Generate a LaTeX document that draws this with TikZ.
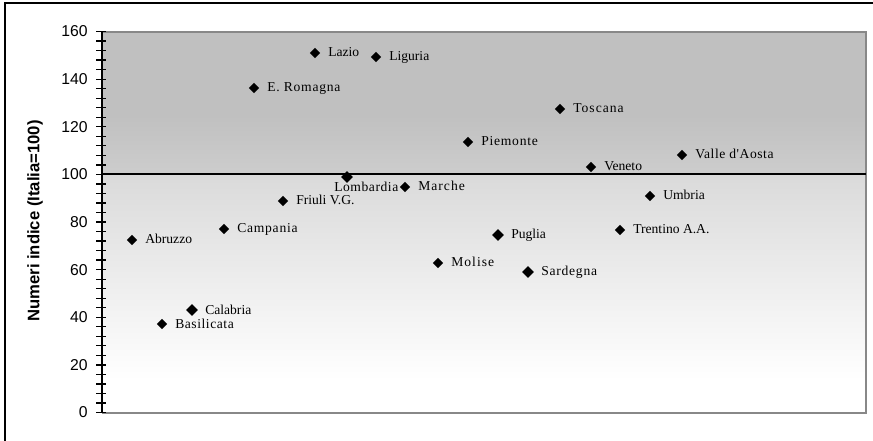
\documentclass[tikz,border=0pt]{standalone}
\usepackage{fontspec}
\setmainfont{Liberation Serif}
\newfontfamily\arial{Liberation Sans}
\newfontfamily\lsN{Liberation Serif}
\newfontfamily\lsS[LetterSpace=4]{Liberation Serif}
\newfontfamily\lsM[LetterSpace=5.5]{Liberation Serif}
\newfontfamily\lsL[LetterSpace=7.5]{Liberation Serif}
\usetikzlibrary{shapes.geometric}
\definecolor{topgray}{HTML}{C0C0C0}
\definecolor{midgray}{HTML}{CDCDCD}
\definecolor{lowgray}{HTML}{DADADA}
\definecolor{bordergray}{HTML}{888888}
\tikzset{
  pt/.style={diamond, fill=black, inner sep=0pt, minimum width=10.5*0.75pt, minimum height=10.5*0.75pt},
  bigpt/.style={pt, minimum width=12*0.75pt, minimum height=12*0.75pt},
  lab/.style={anchor=base west, inner sep=0pt, font=\fontsize{10.2}{12}\selectfont},
  ticklab/.style={anchor=east, inner sep=0pt, font=\arial\fontsize{11.8}{13}\selectfont},
  axtitle/.style={rotate=90, inner sep=0pt, font=\arial\bfseries\fontsize{12.5}{14}\selectfont}
}
\begin{document}
\begin{tikzpicture}[x=0.75pt,y=-0.75pt]
\useasboundingbox (0,0) rectangle (873,441);
\fill[white] (0,0) rectangle (873,441);
% plot area background
\fill[topgray] (102,32) rectangle (866,115);
\shade[top color=topgray, bottom color=midgray] (102,115) rectangle (866,174.4);
\shade[top color=lowgray, bottom color=white] (102,174.4) rectangle (866,380);
\fill[white] (102,380) rectangle (866,413);
% plot border
\draw[bordergray, line width=1.8*0.75pt] (102,32) -- (866,32) -- (866,413) -- (102,413);
% outer frame
\draw[line width=2*0.75pt] (5,441) -- (5,3) -- (873,3);
% reference line 100
\draw[line width=1.8*0.75pt] (102,174.4) -- (866,174.4);
% y axis
\draw[line width=1.6*0.75pt] (102,32) -- (102,413);
\foreach \v in {0,4,...,160}
  \draw[line width=1.3*0.75pt] (96,{412.5-2.381*\v}) -- (106,{412.5-2.381*\v});
\foreach \v in {0,20,...,160}
  \node[ticklab] (t\v) at (88,{412.5-2.381*\v}) {\v};
\node[axtitle] (title) at (35,221) {Numeri indice (Italia=100)};
% data points
\foreach \n/\x/\y/\f/\t in {
  abr/132/240/\lsN/Abruzzo,
  bas/162/324/\lsS/Basilicata,
  cam/224/229/\lsM/Campania,
  emr/254/88/\lsM/E. Romagna,
  fvg/283/201/\lsN/Friuli V.G.,
  laz/315/53/\lsN/Lazio,
  lig/376/57/\lsN/Liguria,
  mar/405/187/\lsL/Marche,
  mol/438/263/\lsL/Molise,
  pie/468/142/\lsM/Piemonte,
  tos/560/109/\lsL/Toscana,
  ven/591/167/\lsN/Veneto,
  tre/620/230/\lsN/Trentino A.A.,
  umb/650/196/\lsN/Umbria,
  vda/682/155/\lsS/Valle d'Aosta}{
  \node[pt] (\n) at (\x,\y) {};
  \node[lab] (\n-l) at (\x+13,\y+4) {\f\t};
}
\foreach \n/\x/\y/\f/\t in {
  cal/192/310/\lsN/Calabria,
  pug/498/235/\lsN/Puglia,
  sar/528/272/\lsM/Sardegna}{
  \node[bigpt] (\n) at (\x,\y) {};
  \node[lab] (\n-l) at (\x+13,\y+4) {\f\t};
}
\node[bigpt] (lom) at (347,177) {};
\node[lab] (lom-l) at (334,192) {\lsS Lombardia};
\end{tikzpicture}
\end{document}
